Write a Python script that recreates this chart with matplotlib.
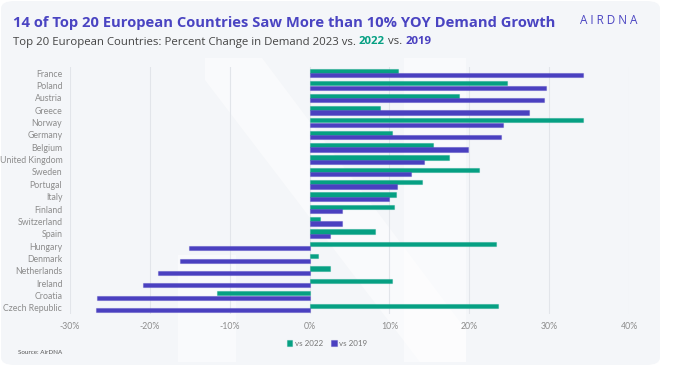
import numpy as np
import matplotlib.pyplot as plt
from matplotlib.patches import FancyBboxPatch, Polygon, Rectangle

# datos
paises = ['France', 'Poland', 'Austria', 'Greece', 'Norway', 'Germany', 'Belgium',
          'United Kingdom', 'Sweden', 'Portugal', 'Italy', 'Finland', 'Switzerland',
          'Spain', 'Hungary', 'Denmark', 'Netherlands', 'Ireland', 'Croatia',
          'Czech Republic']
vs_2022 = [11.1, 24.7, 18.7, 8.8, 34.3, 10.3, 15.4, 17.5, 21.2, 14.1,
           10.8, 10.6, 1.3, 8.2, 23.3, 1.1, 2.6, 10.3, -11.6, 23.6]
vs_2019 = [34.3, 29.6, 29.4, 27.5, 24.2, 24.0, 19.8, 14.3, 12.7, 10.9,
           9.9, 4.1, 4.0, 2.6, -15.1, -16.2, -19.0, -20.8, -26.6, -26.7]
ticks = [-30, -20, -10, 0, 10, 20, 30, 40]

verde = '#06a083'
morado = '#4a40c0'
fondo = '#f4f6f9'
gris = '#8c8c8c'

W, H = 691, 372
fig = plt.figure(figsize=(W / 100, H / 100), dpi=100)
fig.patch.set_facecolor('white')

def fx(x):
    return x / W

def fy(y):
    return 1 - y / H

# tarjeta de fondo
card = FancyBboxPatch((fx(1), fy(365)), fx(659), 364 / H,
                      boxstyle='round,pad=0,rounding_size=0.02',
                      transform=fig.transFigure, facecolor=fondo, edgecolor='none', zorder=-2)
fig.patches.append(card)

# marca de agua (aprox.)
for pts in [[(205, 58), (262, 58), (466, 330), (466, 362), (420, 362), (205, 80)]]:
    fig.patches.append(Polygon([(fx(a), fy(b)) for a, b in pts], closed=True,
                               transform=fig.transFigure, facecolor='white',
                               edgecolor='none', alpha=0.5, zorder=-1))
for x0, y0, x1, y1 in [(178, 255, 236, 362), (404, 58, 466, 362)]:
    fig.patches.append(Rectangle((fx(x0), fy(y1)), fx(x1 - x0), (y1 - y0) / H,
                                 transform=fig.transFigure, facecolor='white',
                                 edgecolor='none', alpha=0.5, zorder=-1))

ax = fig.add_axes([fx(70), fy(314), fx(559), (314 - 67) / H])
ax.set_facecolor('none')
ax.set_zorder(2)

y = np.arange(len(paises))
h = 0.34
ax.barh(y - 0.18, vs_2022, height=h, color=verde, edgecolor=verde + '66', linewidth=0.8, zorder=3)
ax.barh(y + 0.18, vs_2019, height=h, color=morado, edgecolor=morado + '66', linewidth=0.8, zorder=3)

ax.set_xlim(-30, 40)
ax.set_ylim(19.5, -0.5)
ax.set_xticks(ticks)
ax.set_xticklabels([f'{t}%' for t in ticks], family='Lato')
ax.set_yticks(y)
ax.set_yticklabels(paises, family='Lato')
ax.tick_params(axis='both', length=0, colors=gris, labelsize=6.3)
ax.tick_params(axis='x', pad=6)
ax.tick_params(axis='y', pad=5.5)
for s in ax.spines.values():
    s.set_visible(False)
ax.grid(axis='x', color='#e2e5ea', linewidth=0.8, zorder=0)
ax.set_axisbelow(True)

# títulos
fig.text(fx(13), fy(23), '14 of Top 20 European Countries Saw More than 10% YOY Demand Growth',
         fontsize=10.6, fontweight='bold', color='#4a44c2', family='Open Sans', va='center')
sub = 'Top 20 European Countries: Percent Change in Demand 2023 vs. '
t1 = fig.text(fx(13), fy(42), sub, fontsize=8.2, color='#444444', family='Open Sans', va='center')
fig.canvas.draw()
bb = t1.get_window_extent()
t2 = fig.text(bb.x1 / W, fy(42), '2022', fontsize=8.2, color=verde, fontweight='bold',
              family='Open Sans', va='center')
bb = t2.get_window_extent()
t3 = fig.text(bb.x1 / W, fy(42), ' vs. ', fontsize=8.2, color='#444444', family='Open Sans', va='center')
bb = t3.get_window_extent()
fig.text(bb.x1 / W, fy(42), '2019', fontsize=8.2, color=morado, fontweight='bold',
         family='Open Sans', va='center')

fig.text(fx(609), fy(20), 'A I R D N A', fontsize=8.5, color='#4a44c2', family='Open Sans',
         ha='center', va='center')

# leyenda
leg = ax.legend(['vs 2022', 'vs 2019'], loc='center', bbox_to_anchor=(fx(327), fy(343)),
                bbox_transform=fig.transFigure, ncol=2, frameon=False,
                prop={'family': 'Lato', 'size': 5.8},
                handlelength=0.7, handleheight=0.7, handletextpad=0.3, columnspacing=1.0)
for t in leg.get_texts():
    t.set_color('#777777')

fig.text(fx(18), fy(352), 'Source: AirDNA', fontsize=4.5, color='#555555', family='Lato', va='center')

fig.savefig('out.png', dpi=100, facecolor=fig.get_facecolor())
